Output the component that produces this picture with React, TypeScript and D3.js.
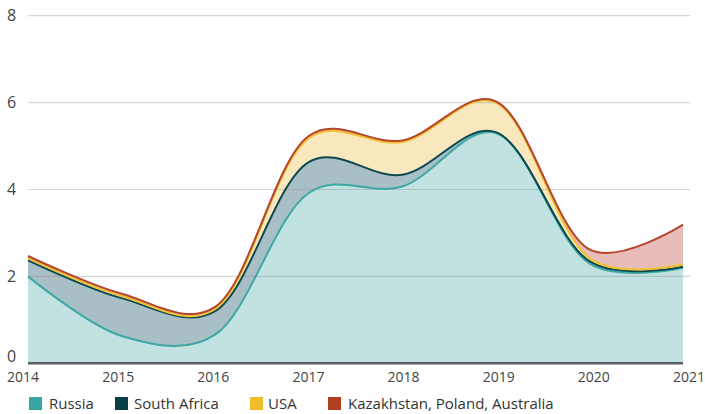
import React from "react";
import * as d3 from "d3";

const years = [2014, 2015, 2016, 2017, 2018, 2019, 2020, 2021];
const russia = [2.0, 0.63, 0.66, 3.92, 4.07, 5.3, 2.3, 2.2];
const southAfrica = [0.37, 0.87, 0.54, 0.71, 0.27, 0.02, 0.05, 0.02];
const usa = [0.05, 0.05, 0.05, 0.55, 0.75, 0.68, 0.07, 0.06];
const kazPolAus = [0.05, 0.05, 0.05, 0.05, 0.04, 0.03, 0.2, 0.91];
const yTicks = [0, 2, 4, 6, 8];
const seriesNames = ["Russia", "South Africa", "USA", "Kazakhstan, Poland, Australia"];

const fills = ["#c1e2e1", "#a8c0c5", "#f9e7bd", "#e8bcb8"];
const strokes = ["#3ea8a4", "#0d4a50", "#f0c12f", "#b5452b"];
const swatches = ["#3aa6a4", "#0b3f47", "#f0bd2c", "#b23e20"];

const W = 705;
const H = 414;
const FONT = "'Open Sans', sans-serif";

export default function App() {
  const x = d3.scaleLinear().domain([2014, 2021]).range([28, 683]);
  const xLabel = d3.scaleLinear().domain([2014, 2021]).range([23, 689]);
  const y = d3.scaleLinear().domain([0, 8]).range([363.3, 15.7]);
  const curve = d3.curveCatmullRom.alpha(0.25);

  const all = [russia, southAfrica, usa, kazPolAus];
  const cum: number[][] = [];
  all.forEach((s, i) => {
    cum.push(s.map((v, j) => v + (i > 0 ? cum[i - 1][j] : 0)));
  });

  const areas = cum.map((top, i) => {
    const bottom = i > 0 ? cum[i - 1] : years.map(() => 0);
    const upper = d3
      .line<number>()
      .x((_, j) => x(years[j]))
      .y((v) => y(v))
      .curve(curve)(top) as string;
    const lowerPts = bottom.map((v, j) => [x(years[j]), y(v)] as [number, number]).reverse();
    const lower = d3.line().curve(curve)(lowerPts) as string;
    return upper + "L" + lower.slice(1) + "Z";
  });
  const lines = cum.map((top) => {
    const gen = d3
      .line<number>()
      .x((_, j) => x(years[j]))
      .y((v) => y(v))
      .curve(curve);
    return gen(top) as string;
  });

  const legendSwX = [29, 115, 250, 328];
  const legendTxX = [49, 134, 268, 348];

  return (
    <svg
      width={W}
      height={H}
      style={{ position: "absolute", left: 0, top: 0, background: "#fff" }}
      fontFamily={FONT}
    >
      {areas.map((d, i) => (
        <path key={"a" + i} d={d} fill={fills[i]} stroke="none" />
      ))}
      {yTicks
        .filter((t) => t > 0)
        .map((t) => (
          <line
            key={"g" + t}
            x1={28}
            x2={690}
            y1={y(t)}
            y2={y(t)}
            stroke="#8a8a8a"
            strokeOpacity={0.35}
            strokeWidth={1.2}
          />
        ))}
      {lines.map((d, i) => (
        <path
          key={"l" + i}
          d={d}
          fill="none"
          stroke={strokes[i]}
          strokeWidth={2}
          strokeLinejoin="round"
        />
      ))}
      <line x1={28} x2={683} y1={y(0)} y2={y(0)} stroke="#5a5f5f" strokeWidth={2.5} />
      {yTicks.map((t) => (
        <text
          key={"yt" + t}
          x={7}
          y={t === 0 ? y(t) - 1.5 : y(t)}
          dy={t === 0 ? "0" : "0.35em"}
          fontSize={16}
          fill="#444"
        >
          {t}
        </text>
      ))}
      {years.map((yr) => (
        <text
          key={"xt" + yr}
          x={xLabel(yr)}
          y={382}
          textAnchor="middle"
          fontSize={14}
          fill="#444"
        >
          {yr}
        </text>
      ))}
      {seriesNames.map((n, i) => (
        <g key={"lg" + i}>
          <rect x={legendSwX[i]} y={397} width={13} height={13} fill={swatches[i]} />
          <text x={legendTxX[i]} y={409} fontSize={15} fill="#333">
            {n}
          </text>
        </g>
      ))}
    </svg>
  );
}
